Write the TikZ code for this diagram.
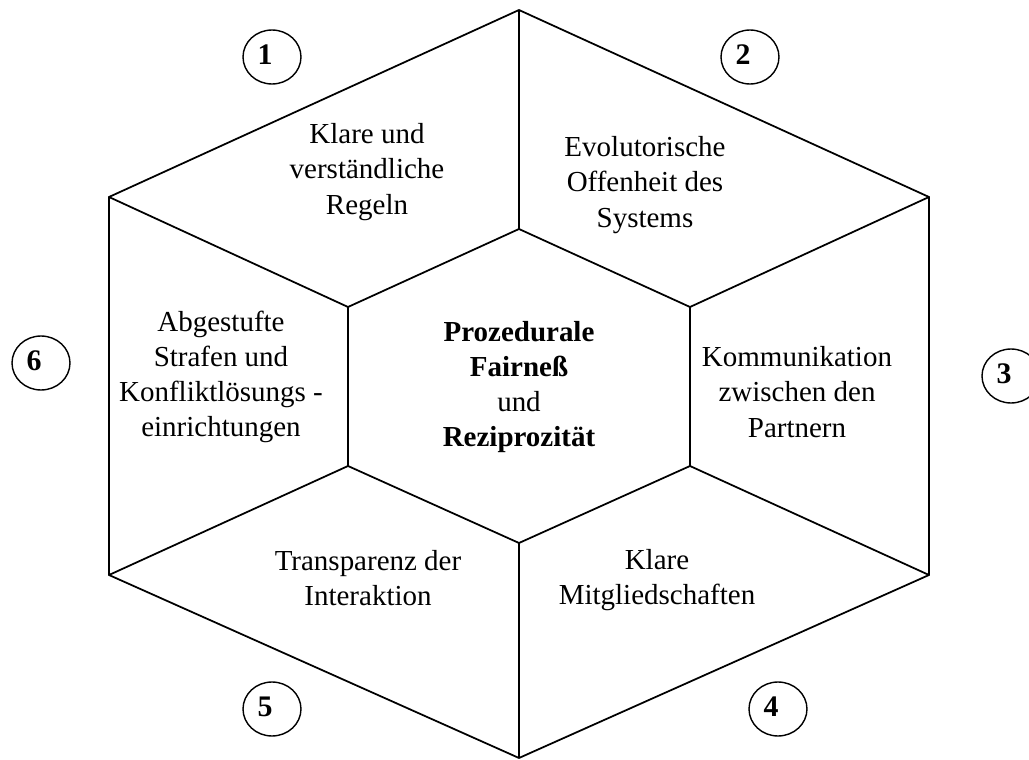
\documentclass[tikz,border=0pt]{standalone}
\usepackage{fontspec}
\setmainfont{Liberation Serif}
\usetikzlibrary{shapes.geometric}

\tikzset{
  field/.style={align=center, font=\fontsize{16.5}{20}\selectfont},
  num/.style={draw, ellipse, line width=0.8pt, minimum width=1.16cm, minimum height=1.08cm, inner sep=0pt},
  numtext/.style={xshift=-0.14cm, yshift=0.05cm, inner sep=0pt, font=\fontsize{17}{20}\selectfont\bfseries}
}

\begin{document}
\begin{tikzpicture}[x=0.02cm, y=-0.02cm, line width=1pt]
\useasboundingbox (0,0) rectangle (1029,760);

% outer hexagon
\coordinate (o1) at (519,10);
\coordinate (o2) at (929,197);
\coordinate (o3) at (929,575);
\coordinate (o4) at (519,758);
\coordinate (o5) at (109,575);
\coordinate (o6) at (109,197);

% inner hexagon
\coordinate (i1) at (519,229);
\coordinate (i2) at (690,307);
\coordinate (i3) at (690,466);
\coordinate (i4) at (519,543);
\coordinate (i5) at (348,466);
\coordinate (i6) at (348,307);

\draw (o1) -- (o2) -- (o3) -- (o4) -- (o5) -- (o6) -- cycle;
\draw (i1) -- (i2) -- (i3) -- (i4) -- (i5) -- (i6) -- cycle;
\foreach \k in {1,...,6}
  \draw (o\k) -- (i\k);

\node[field] (center) at (519,387) {\textbf{Prozedurale}\\\textbf{Fairneß}\\und\\\textbf{Reziprozität}};

\node[field] (t1) at (367,172) {Klare und\\verständliche\\Regeln};
\node[field] (t2) at (645,185) {Evolutorische\\Offenheit des\\Systems};
\node[field] (t3) at (797,392) {Kommunikation\\zwischen den\\Partnern};
\node[field] (t4) at (657,580) {Klare\\Mitgliedschaften};
\node[field] (t5) at (368,578) {Transparenz der\\Interaktion};
\node[field] (t6) at (221,377) {Abgestufte\\Strafen und\\Konfliktlösungs -\\einrichtungen};

\node[num, label={[numtext]center:1}] (n1) at (272,57) {};
\node[num, label={[numtext]center:2}] (n2) at (750,57) {};
\node[num, label={[numtext]center:3}] (n3) at (1011,376) {};
\node[num, label={[numtext]center:4}] (n4) at (778,709) {};
\node[num, label={[numtext]center:5}] (n5) at (272,709) {};
\node[num, label={[numtext]center:6}] (n6) at (41,363) {};
\end{tikzpicture}
\end{document}
